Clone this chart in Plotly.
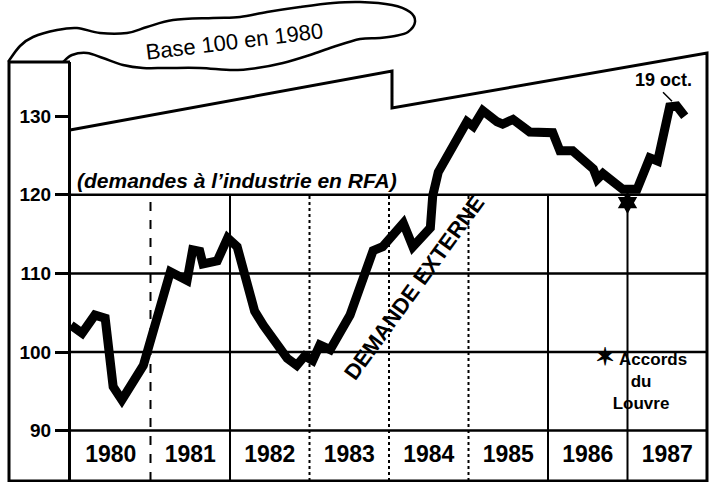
import plotly.graph_objects as go

W, H = 719, 482

# ---------------- data ----------------
dates = [1980.00, 1980.14, 1980.30, 1980.43, 1980.53, 1980.64, 1980.91,
         1981.25, 1981.46, 1981.53, 1981.62, 1981.66, 1981.84, 1981.97,
         1982.09, 1982.31, 1982.42, 1982.72, 1982.84, 1982.94, 1983.04,
         1983.13, 1983.26, 1983.51, 1983.80, 1983.92, 1984.18, 1984.30,
         1984.52, 1984.55, 1984.62, 1984.98, 1985.06, 1985.18, 1985.36,
         1985.43, 1985.56, 1985.77, 1986.06, 1986.15, 1986.31, 1986.57,
         1986.62, 1986.69, 1986.94, 1987.12, 1987.28, 1987.38, 1987.53,
         1987.62, 1987.72]
index_values = [103.4, 102.4, 104.7, 104.3, 95.6, 93.9, 98.3,
                110.2, 109.1, 113.0, 112.8, 111.2, 111.6, 114.5,
                113.4, 105.2, 103.4, 99.2, 98.3, 99.5, 98.9,
                100.9, 100.3, 104.7, 112.9, 113.4, 116.4, 113.4,
                115.8, 119.9, 122.9, 129.3, 128.7, 130.7, 129.3,
                129.0, 129.6, 128.0, 127.9, 125.6, 125.6, 123.3,
                122.0, 122.7, 120.7, 120.7, 124.7, 124.3, 131.2,
                131.3, 130.0]

y_ticks = [90, 100, 110, 120, 130]
y_ticktext = ["90", "100", "110", "120", "130"]
grid_levels = [90, 100, 110, 120]
years = [1980, 1981, 1982, 1983, 1984, 1985, 1986, 1987]
year_labels = ["1980", "1981", "1982", "1983", "1984", "1985", "1986", "1987"]
year_boundaries = [1981, 1982, 1983, 1984, 1985, 1986, 1987]
boundary_styles = ["dash", "solid", "dot", "dot", "dot", "solid", "solid"]

louvre_date, louvre_value = 1987.0, 119.0
oct19_date, oct19_value = 1987.56, 131.9

# ---------------- geometry helpers ----------------
Y_RANGE = [83.59, 136.9]
X_RANGE = [1980, 1988]


def px(x, y):
    return x / W, 1 - y / H


def poly_path(points, close=False):
    pts = [px(*p) for p in points]
    d = "M" + " L".join(f"{a:.5f},{b:.5f}" for a, b in pts)
    return d + (" Z" if close else "")


def smooth_path(points):
    pts = [px(*p) for p in points]
    n = len(pts)
    d = f"M{pts[0][0]:.5f},{pts[0][1]:.5f}"
    for i in range(n - 1):
        p0 = pts[i - 1] if i > 0 else pts[i]
        p1 = pts[i]
        p2 = pts[i + 1]
        p3 = pts[i + 2] if i + 2 < n else pts[i + 1]
        c1 = (p1[0] + (p2[0] - p0[0]) / 6, p1[1] + (p2[1] - p0[1]) / 6)
        c2 = (p2[0] - (p3[0] - p1[0]) / 6, p2[1] - (p3[1] - p1[1]) / 6)
        d += (f" C{c1[0]:.5f},{c1[1]:.5f} {c2[0]:.5f},{c2[1]:.5f}"
              f" {p2[0]:.5f},{p2[1]:.5f}")
    return d


FONT = "Liberation Sans, Arial, sans-serif"

fig = go.Figure()

fig.add_trace(go.Scatter(
    x=dates, y=index_values, mode="lines",
    line=dict(color="black", width=9),
    hoverinfo="x+y", showlegend=False))

fig.add_trace(go.Scatter(
    x=[louvre_date], y=[louvre_value], mode="markers",
    marker=dict(symbol="hexagram", size=17, color="black"),
    showlegend=False, cliponaxis=False))

shapes = []
for v in grid_levels:
    shapes.append(dict(type="line", xref="x domain", x0=0, x1=1,
                       yref="y", y0=v, y1=v,
                       line=dict(color="black", width=2.5), layer="below"))
for yr, st in zip(year_boundaries, boundary_styles):
    shapes.append(dict(type="line", xref="x", x0=yr, x1=yr,
                       yref="y", y0=Y_RANGE[0], y1=120,
                       line=dict(color="black", width=2, dash=st), layer="below"))

# outer frame with the sloping top edge
frame = [(9, 62), (9, 481), (707, 481), (707, 53), (392, 108), (392, 71), (70, 130)]
shapes.append(dict(type="path", xref="paper", yref="paper",
                   path=poly_path(frame), line=dict(color="black", width=3)))
shapes.append(dict(type="path", xref="paper", yref="paper",
                   path=poly_path([(9, 62), (70, 62)]),
                   line=dict(color="black", width=3)))

# ribbon banner
banner = [(8, 62), (20, 46), (33, 37), (57, 30), (77, 28), (100, 33), (127, 33),
          (147, 27), (173, 20), (213, 18), (240, 17), (267, 12), (300, 7),
          (333, 3), (360, 2), (392, 5), (410, 12), (415, 22), (408, 32),
          (395, 36), (380, 38), (360, 39), (333, 47), (310, 55), (283, 63),
          (257, 68), (233, 70), (200, 68), (167, 68), (143, 68), (123, 65),
          (103, 58), (87, 53), (72, 55), (63, 62)]
shapes.append(dict(type="path", xref="paper", yref="paper",
                   path=smooth_path(banner), line=dict(color="black", width=2.5)))

annotations = [
    dict(text="Base 100 en 1980", xref="paper", yref="paper",
         x=px(234, 41)[0], y=px(234, 41)[1], xanchor="center", yanchor="middle",
         showarrow=False, textangle=-7,
         font=dict(family=FONT, size=22, color="black")),
    dict(text="<b><i>(demandes à l’industrie en RFA)</i></b>", xref="paper",
         yref="paper", x=px(75, 180)[0], y=px(75, 180)[1], xanchor="left",
         yanchor="middle", showarrow=False,
         font=dict(family=FONT, size=21, color="black")),
    dict(text="<b>DEMANDE EXTERNE</b>", xref="paper", yref="paper",
         x=px(414, 287)[0], y=px(414, 287)[1], xanchor="center",
         yanchor="middle", showarrow=False, textangle=-54,
         font=dict(family=FONT, size=22, color="black")),
    dict(text="<b>19 oct.</b>", x=oct19_date, y=oct19_value, xref="x", yref="y",
         showarrow=True, arrowhead=0, arrowwidth=1.5, arrowcolor="black",
         ax=-9, ay=-9, yanchor="bottom", xanchor="center",
         font=dict(family=FONT, size=18, color="black")),
    dict(text="<b><span style=\"font-size:24px\">✶</span> Accords<br>du<br>Louvre</b>",
         xref="paper", yref="paper",
         x=px(641, 378)[0], y=px(641, 378)[1], xanchor="center",
         yanchor="middle", showarrow=False, align="center",
         font=dict(family=FONT, size=17, color="black")),
]

fig.update_layout(
    width=W, height=H,
    margin=dict(l=0, r=0, t=0, b=0),
    paper_bgcolor="white", plot_bgcolor="white",
    showlegend=False,
    shapes=shapes, annotations=annotations,
    xaxis=dict(domain=[71 / W, 707 / W], range=X_RANGE, anchor="free",
               position=1 - 438 / H,
               tickvals=[y + 0.5 for y in years],
               ticktext=[f"<b>{t}</b>" for t in year_labels],
               ticks="", showline=False, showgrid=False, zeroline=False,
               tickfont=dict(family=FONT, size=23, color="black")),
    yaxis=dict(domain=[1 - 481 / H, 1 - 62 / H], range=Y_RANGE, anchor="x",
               tickvals=y_ticks, ticktext=[f"<b>{t}</b>" for t in y_ticktext],
               ticks="outside", ticklen=13, tickwidth=2.5, tickcolor="black",
               showline=True, linewidth=3, linecolor="black",
               showgrid=False, zeroline=False,
               tickfont=dict(family=FONT, size=19, color="black")),
)

fig.write_html("out.html",
               config={"displayModeBar": False},
               post_script="document.body.style.margin='0';"
                           "document.body.style.overflow='hidden';")
